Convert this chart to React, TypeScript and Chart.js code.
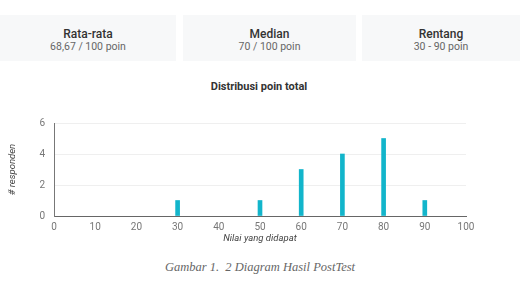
import React, { useEffect, useRef } from "react";
import { Chart, registerables } from "chart.js";

Chart.register(...registerables);

const scores = [30, 50, 60, 70, 80, 90];
const counts = [1, 1, 3, 4, 5, 1];
const cardTitles = ["Rata-rata", "Median", "Rentang"];
const cardValues = ["68,67 / 100 poin", "70 / 100 poin", "30 - 90 poin"];
const chartTitle = "Distribusi poin total";
const xTitle = "Nilai yang didapat";
const yTitle = "# responden";
const caption = "Gambar 1.  2 Diagram Hasil PostTest";

const cardBoxes = [
  { left: 0, width: 176 },
  { left: 183, width: 173 },
  { left: 362, width: 158 },
];

export default function App() {
  const ref = useRef<HTMLCanvasElement | null>(null);
  useEffect(() => {
    document.body.style.margin = "0";
    const ctx = ref.current!;
    const chart = new Chart(ctx, {
      type: "bar",
      data: {
        datasets: [
          {
            data: scores.map((s, i) => ({ x: s, y: counts[i] })),
            backgroundColor: "#12b5cb",
            barThickness: 4,
          },
        ],
      },
      options: {
        animation: false,
        responsive: false,
        maintainAspectRatio: false,
        layout: { padding: { left: 0, right: 54, top: 47, bottom: 0 } },
        plugins: {
          legend: { display: false },
          tooltip: { enabled: false },
          title: { display: false },
        },
        scales: {
          x: {
            type: "linear",
            offset: false,
            min: 0,
            max: 100,
            afterFit: (s: any) => {
              s.height = 28;
            },
            ticks: { stepSize: 10, color: "#777", font: { family: "Roboto", size: 10 }, padding: 5, maxRotation: 0 },
            grid: { display: false, drawTicks: false, offset: false },
            border: { display: true, color: "#666", width: 1 },
            title: {
              display: true,
              text: xTitle,
              color: "#444",
              font: { family: "Roboto", size: 9.5, style: "italic" },
              padding: { top: 0, bottom: 0 },
            },
          },
          y: {
            min: 0,
            max: 6,
            afterFit: (s: any) => {
              s.width = 54;
            },
            ticks: { stepSize: 2, color: "#777", font: { family: "Roboto", size: 10 }, padding: 9 },
            grid: { color: "#efefef", drawTicks: false },
            border: { display: true, color: "#777", width: 1 },
            title: {
              display: true,
              text: yTitle,
              color: "#444",
              font: { family: "Roboto", size: 9.5, style: "italic" },
              padding: { top: 7, bottom: 0 },
            },
          },
        },
      },
    });
    return () => chart.destroy();
  }, []);

  return (
    <div style={{ position: "relative", width: 520, height: 282, background: "#fff", overflow: "hidden", fontFamily: "Roboto" }}>
      {cardBoxes.map((b, i) => (
        <div
          key={i}
          style={{
            position: "absolute",
            left: b.left,
            top: 15,
            width: b.width,
            height: 46,
            background: "#f7f8f9",
            textAlign: "center",
          }}
        >
          <div style={{ marginTop: 12, fontSize: 12, fontWeight: 500, color: "#333", lineHeight: "14px" }}>{cardTitles[i]}</div>
          <div style={{ marginTop: -1, fontSize: 10.5, color: "#666", lineHeight: "13px" }}>{cardValues[i]}</div>
        </div>
      ))}
      <div
        style={{
          position: "absolute",
          left: 0,
          width: 518,
          top: 80,
          textAlign: "center",
          fontSize: 11,
          fontWeight: 700,
          color: "#333",
          lineHeight: "14px",
        }}
      >
        {chartTitle}
      </div>
      <canvas ref={ref} width={520} height={168} style={{ position: "absolute", left: 0, top: 76, width: 520, height: 168 }} />
      <div
        style={{
          position: "absolute",
          left: 0,
          width: 520,
          top: 260,
          textAlign: "center",
          fontFamily: "'Liberation Serif', serif",
          fontStyle: "italic",
          fontSize: 12.5,
          color: "#666",
          whiteSpace: "pre",
        }}
      >
        {caption}
      </div>
    </div>
  );
}
